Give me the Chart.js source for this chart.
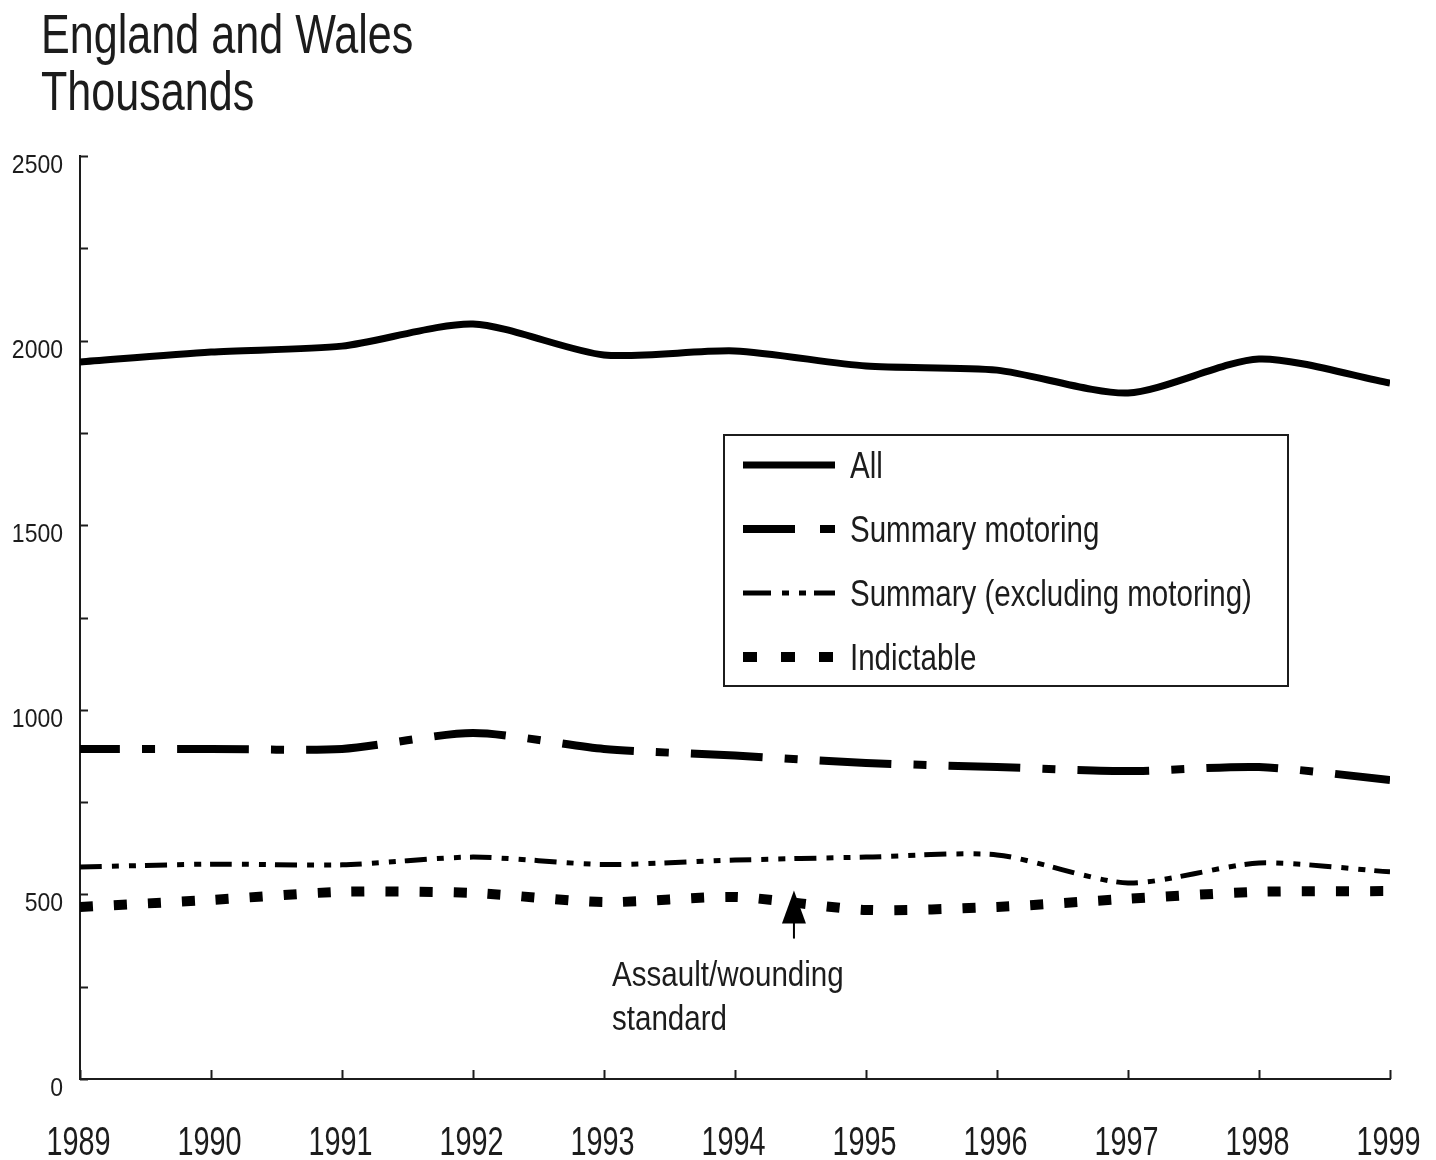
<!DOCTYPE html>
<html>
<head>
<meta charset="utf-8">
<script src="https://cdn.jsdelivr.net/npm/chart.js@4.4.1/dist/chart.umd.min.js"></script>
<style>
  html, body { margin: 0; padding: 0; background: #fff; }
</style>
</head>
<body>
<canvas id="myChart" width="1436" height="1160"></canvas>
<script>
// Defendants proceeded against, by type of offence (thousands)
const years = [1989, 1990, 1991, 1992, 1993, 1994, 1995, 1996, 1997, 1998, 1999];
const allOffences = [1942, 1969, 1985, 2045, 1961, 1972, 1931, 1920, 1858, 1950, 1885];
const summaryMotoring = [894, 894, 894, 937, 894, 876, 856, 845, 834, 845, 810];
const summaryExclMotoring = [574, 582, 580, 601, 581, 593, 601, 607, 531, 585, 561];
const indictable = [466, 485, 507, 504, 479, 493, 458, 466, 488, 507, 509];

const seriesNames = ['All', 'Summary motoring', 'Summary (excluding motoring)', 'Indictable'];
const yTickLabels = ['0', '500', '1000', '1500', '2000', '2500'];

// where the counting rule for assault/wounding changed
const changeYear = 1994.45;
const changeValue = 505;
const changeNote = ['Assault/wounding', 'standard'];

const FONT = '"Liberation Sans", Arial, Helvetica, sans-serif';
const INK = '#1c1c1c';

const toPoints = arr => arr.map((v, i) => ({ x: years[i], y: v }));

// the typeface is a narrow Helvetica, so squeeze text horizontally
function narrowText(ctx, text, x, y, size, squeeze, align) {
  ctx.save();
  ctx.font = size + 'px ' + FONT;
  ctx.textAlign = align || 'left';
  ctx.textBaseline = 'alphabetic';
  ctx.translate(x, y);
  ctx.scale(squeeze, 1);
  ctx.fillText(text, 0, 0);
  ctx.restore();
}

// title, inward tick marks and labels, boxed legend and the arrow note
const extras = {
  id: 'extras',
  afterDraw(chart) {
    const ctx = chart.ctx;
    const xs = chart.scales.x, ys = chart.scales.y;
    ctx.save();
    ctx.fillStyle = INK;

    // ticks point into the plot
    ctx.strokeStyle = INK;
    ctx.lineWidth = 2;
    ys.ticks.forEach(t => {
      const py = Math.round(ys.getPixelForValue(t.value)) + 0.5;
      ctx.beginPath(); ctx.moveTo(xs.left, py); ctx.lineTo(xs.left + 8, py); ctx.stroke();
      if (t.value % 500 === 0) {
        narrowText(ctx, yTickLabels[t.value / 500], xs.left - 17, py + 16, 25, 0.92, 'right');
      }
    });
    xs.ticks.forEach(t => {
      const px = Math.round(xs.getPixelForValue(t.value)) + 0.5;
      ctx.beginPath(); ctx.moveTo(px, ys.bottom); ctx.lineTo(px, ys.bottom - 9); ctx.stroke();
      narrowText(ctx, String(t.value), px - 2, ys.bottom + 76, 40, 0.72, 'center');
    });

    // heading
    narrowText(ctx, 'England and Wales', 41, 53, 56, 0.77);
    narrowText(ctx, 'Thousands', 41, 110, 56, 0.77);

    // legend box
    const box = { x: 724, y: 435, w: 564, h: 251 };
    ctx.fillStyle = '#fff';
    ctx.fillRect(box.x, box.y, box.w, box.h);
    ctx.strokeStyle = INK;
    ctx.lineWidth = 2;
    ctx.strokeRect(box.x, box.y, box.w, box.h);
    chart.data.datasets.forEach((ds, i) => {
      const cy = 465 + i * 64;
      ctx.strokeStyle = ds.borderColor;
      ctx.lineWidth = ds.borderWidth;
      ctx.lineCap = 'butt';
      ctx.setLineDash(ds.legendDash || []);
      ctx.beginPath(); ctx.moveTo(743, cy); ctx.lineTo(835, cy); ctx.stroke();
      ctx.setLineDash([]);
      ctx.fillStyle = INK;
      narrowText(ctx, ds.label, 850, cy + 13, 36, 0.82);
    });

    // arrow marking the change in counting standard
    const ax = xs.getPixelForValue(changeYear);
    const ay = ys.getPixelForValue(changeValue);
    ctx.fillStyle = '#000';
    ctx.beginPath();
    ctx.moveTo(ax, ay - 2);
    ctx.lineTo(ax - 12, ay + 31);
    ctx.lineTo(ax + 12, ay + 31);
    ctx.closePath();
    ctx.fill();
    ctx.strokeStyle = '#000';
    ctx.lineWidth = 2;
    ctx.beginPath(); ctx.moveTo(ax, ay + 28); ctx.lineTo(ax, ay + 46); ctx.stroke();

    ctx.fillStyle = INK;
    changeNote.forEach((line, i) => narrowText(ctx, line, ax - 182, ay + 93 + i * 44, 35, 0.845));

    ctx.restore();
  }
};

const context = document.getElementById('myChart').getContext('2d');

const myChart = new Chart(context, {
  type: 'line',
  data: {
    datasets: [
      {
        label: seriesNames[0],
        data: toPoints(allOffences),
        borderColor: '#000',
        borderWidth: 7,
        legendDash: []
      },
      {
        label: seriesNames[1],
        data: toPoints(summaryMotoring),
        borderColor: '#000',
        borderWidth: 8,
        borderDash: [72, 22, 13, 22],
        borderDashOffset: 32,
        legendDash: [52, 25, 15]
      },
      {
        label: seriesNames[2],
        data: toPoints(summaryExclMotoring),
        borderColor: '#000',
        borderWidth: 5,
        borderDash: [22, 10, 7, 10, 7, 9],
        legendDash: [28, 11, 7, 10, 7, 8, 21]
      },
      {
        label: seriesNames[3],
        data: toPoints(indictable),
        borderColor: '#000',
        borderWidth: 10,
        borderDash: [13, 21],
        legendDash: [14, 24]
      }
    ]
  },
  options: {
    responsive: false,
    animation: false,
    layout: { padding: { top: 156, right: 46, left: 0, bottom: 0 } },
    elements: {
      point: { radius: 0 },
      line: { tension: 0.25, borderCapStyle: 'butt', fill: false }
    },
    plugins: {
      legend: { display: false },
      tooltip: { enabled: false }
    },
    scales: {
      x: {
        type: 'linear',
        min: 1989,
        max: 1999,
        afterFit: scale => {
          scale.height = 81;
          scale.paddingLeft = 0;
          scale.paddingRight = 0;
        },
        ticks: { display: false, stepSize: 1 },
        grid: { display: false, drawTicks: false },
        border: { display: true, color: INK, width: 2 }
      },
      y: {
        min: 0,
        max: 2500,
        afterFit: scale => { scale.width = 80; },
        ticks: { display: false, stepSize: 250 },
        grid: { display: false, drawTicks: false },
        border: { display: true, color: INK, width: 2 }
      }
    }
  },
  plugins: [extras]
});
</script>
</body>
</html>
